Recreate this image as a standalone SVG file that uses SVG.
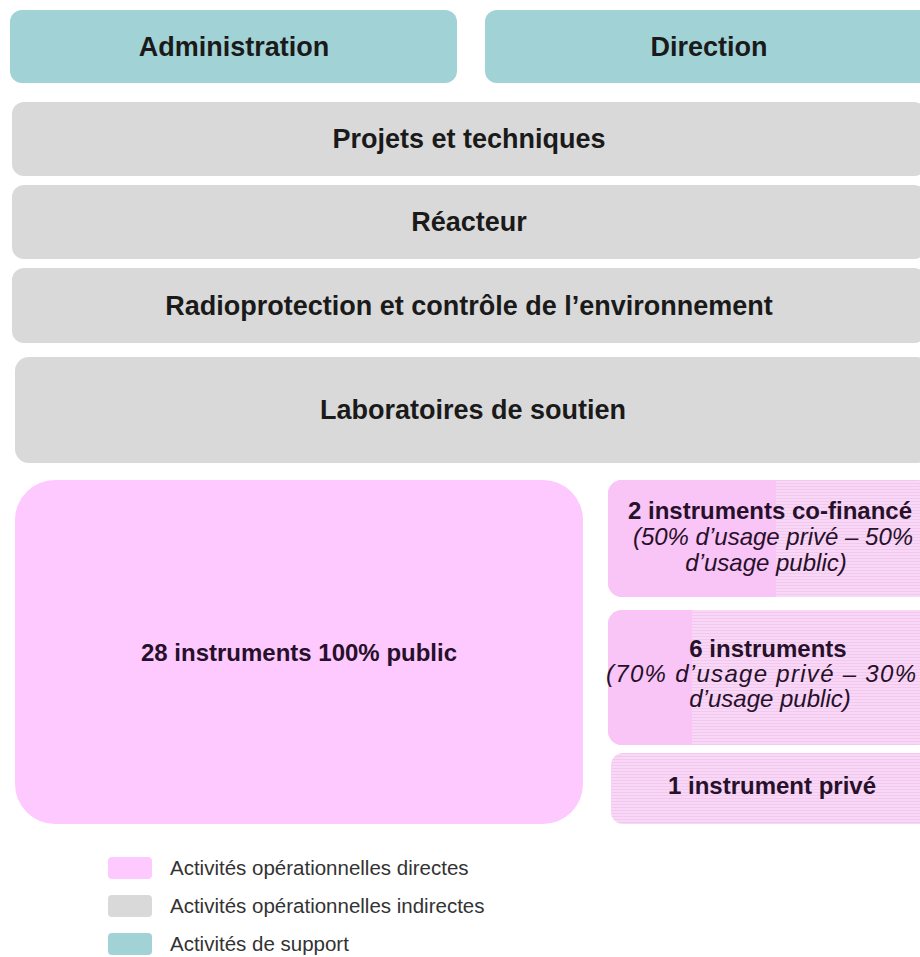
<svg xmlns="http://www.w3.org/2000/svg" width="920" height="957" viewBox="0 0 920 957">
  <style>
    .support { fill: #A1D2D6; }
    .indirect { fill: #D9D9D9; }
    .direct { fill: #FEC9FE; }
    .mixed { fill: #F9C4F6; }
    .priv { fill: url(#hatch); }
    .h { font-family: "Liberation Sans", Arial, sans-serif; font-weight: bold; font-size: 27px; fill: #1a1a1a; text-anchor: middle; }
    .b { font-family: "Liberation Sans", Arial, sans-serif; font-weight: bold; font-size: 24px; fill: #26102a; text-anchor: middle; }
    .i { font-family: "Liberation Sans", Arial, sans-serif; font-style: italic; font-size: 24px; fill: #26102a; text-anchor: middle; }
    .lg { font-family: "Liberation Sans", Arial, sans-serif; font-size: 20.5px; fill: #333333; }
  </style>
  <defs>
    <pattern id="hatch" width="4" height="3" patternUnits="userSpaceOnUse">
      <rect width="4" height="3" fill="#F9D7F6"/>
      <rect width="4" height="1" fill="#F2C8EE"/>
    </pattern>
    <clipPath id="c1"><rect x="608" y="480" width="324" height="117" rx="14"/></clipPath>
    <clipPath id="c2"><rect x="608" y="610" width="324" height="135" rx="14"/></clipPath>
  </defs>
  <rect width="920" height="957" fill="#FFFFFF"/>

  <g id="administration">
    <rect class="support" x="10" y="10" width="447" height="73" rx="12"/>
    <text class="h" x="234" y="56">Administration</text>
  </g>
  <g id="direction">
    <rect class="support" x="485" y="10" width="448" height="73" rx="12"/>
    <text class="h" x="709" y="56">Direction</text>
  </g>
  <g id="projets">
    <rect class="indirect" x="12" y="102" width="914" height="74" rx="12"/>
    <text class="h" x="469" y="148">Projets et techniques</text>
  </g>
  <g id="reacteur">
    <rect class="indirect" x="12" y="185" width="914" height="74" rx="12"/>
    <text class="h" x="469" y="231">Réacteur</text>
  </g>
  <g id="radioprotection">
    <rect class="indirect" x="12" y="268" width="914" height="75" rx="12"/>
    <text class="h" x="469" y="315">Radioprotection et contrôle de l’environnement</text>
  </g>
  <g id="laboratoires">
    <rect class="indirect" x="15" y="357" width="915" height="106" rx="14"/>
    <text class="h" x="473" y="419">Laboratoires de soutien</text>
  </g>

  <g id="public">
    <rect class="direct" x="15" y="480" width="568" height="344" rx="40"/>
    <text class="b" x="299" y="661">28 instruments 100% public</text>
  </g>
  <g id="cofinance">
    <g clip-path="url(#c1)">
      <rect class="priv" x="608" y="480" width="324" height="117"/>
      <rect class="mixed" x="608" y="480" width="168" height="117"/>
    </g>
    <text class="b" x="770" y="519">2 instruments co-financé</text>
    <text class="i" x="773" y="545">(50% d’usage privé – 50%</text>
    <text class="i" x="766" y="571">d’usage public)</text>
  </g>
  <g id="six">
    <g clip-path="url(#c2)">
      <rect class="priv" x="608" y="610" width="324" height="135"/>
      <rect class="mixed" x="608" y="610" width="84" height="135"/>
    </g>
    <text class="b" x="768" y="657">6 instruments</text>
    <text class="i" x="761" y="682" textLength="310" lengthAdjust="spacing">(70% d’usage privé – 30%</text>
    <text class="i" x="770" y="707">d’usage public)</text>
  </g>
  <g id="prive">
    <rect class="priv" x="611" y="753" width="321" height="71" rx="12"/>
    <text class="b" x="772" y="794">1 instrument privé</text>
  </g>

  <g id="connectors"></g>

  <g id="legend">
    <rect class="direct" x="108" y="857" width="44" height="22" rx="4"/>
    <text class="lg" x="170" y="875">Activités opérationnelles directes</text>
    <rect class="indirect" x="108" y="895" width="44" height="22" rx="4"/>
    <text class="lg" x="170" y="913">Activités opérationnelles indirectes</text>
    <rect class="support" x="108" y="933" width="44" height="22" rx="4"/>
    <text class="lg" x="170" y="951">Activités de support</text>
  </g>
</svg>
